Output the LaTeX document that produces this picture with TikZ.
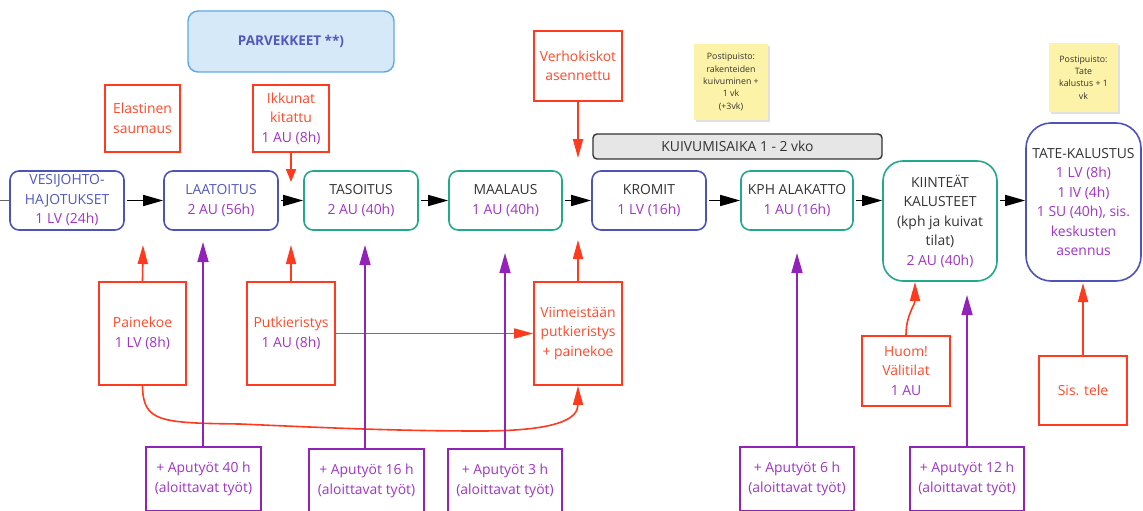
\documentclass[tikz,border=0pt]{standalone}
\usepackage{fontspec}
\setmainfont{Open Sans}
\usetikzlibrary{arrows.meta,calc}

\definecolor{redline}{HTML}{FF3A1E}
\definecolor{redtext}{HTML}{FF4B2C}
\definecolor{purpline}{HTML}{9322B8}
\definecolor{purptext}{HTML}{A035C6}
\definecolor{blueline}{HTML}{4D53B8}
\definecolor{bluetext}{HTML}{5158BE}
\definecolor{greenline}{HTML}{22A88A}
\definecolor{darktext}{HTML}{333333}
\definecolor{skyfill}{HTML}{D6E9F9}
\definecolor{skyline}{HTML}{5AA9EA}
\definecolor{notefill}{HTML}{FCF3A8}
\definecolor{barfill}{HTML}{E6E6E6}

\tikzset{
  base/.style={font=\fontsize{13.9}{19.5}\selectfont, align=center,
    inner sep=0pt, text=darktext},
  bluebox/.style={base, draw=blueline, line width=1.6pt, rounded corners=9pt, fill=white},
  greenbox/.style={base, draw=greenline, line width=1.6pt, rounded corners=9pt, fill=white},
  redbox/.style={base, draw=redline, line width=1.8pt, text=redtext, fill=white},
  purpbox/.style={base, draw=purpline, line width=1.8pt, text=purptext, fill=white},
  notebox/.style={align=center, inner sep=0pt, fill=notefill, text=darktext,
    font=\fontsize{8.8}{12.4}\selectfont},
  blk/.style={line width=1.4pt, -{Triangle[length=20pt,width=11pt]}},
  redarr/.style={redline, line width=1.6pt, -{Triangle[length=19pt,width=10pt]}},
  redarrs/.style={redline, line width=1.6pt, -{Triangle[length=13pt,width=10pt]}},
  purparr/.style={purpline, line width=1.6pt, -{Triangle[length=20pt,width=11pt]}},
}
\newcommand{\pu}[1]{\textcolor{purptext}{#1}}
\newcommand{\bl}[1]{\textcolor{bluetext}{#1}}

\begin{document}
\begin{tikzpicture}[x=1pt,y=-1pt]
\useasboundingbox (0,0) rectangle (1143,511);

% balcony heading
\node[base, draw=skyline, fill=skyfill, line width=1.4pt, rounded corners=10pt,
  minimum width=206pt, minimum height=61pt, text=bluetext,
  font=\fontsize{13.5}{16}\selectfont\bfseries] (parv) at (291,41.5) {PARVEKKEET **)};

% drying time bar
\node[base, draw=darktext, fill=barfill, line width=1.4pt, rounded corners=4pt,
  minimum width=289pt, minimum height=25pt] (kuiv) at (737.5,146.5) {KUIVUMISAIKA 1 - 2 vko};

% sticky notes
\fill[black!12] (696,46) rectangle (770,122);
\node[notebox, minimum width=74pt, minimum height=76pt] (note1) at (731,82)
  {Postipuisto:\\rakenteiden\\kuivuminen +\\1 vk\\(+3vk)};
\fill[black!12] (1051,45) rectangle (1120,114);
\node[notebox, minimum width=69pt, minimum height=69pt] (note2) at (1083.5,77.5)
  {Postipuisto:\\Tate\\kalustus + 1\\vk};

% main work phases
\node[bluebox, minimum width=114pt, minimum height=59pt] (ves) at (67,200.5)
  {\bl{VESIJOHTO-}\\\bl{\addfontfeatures{Kerning=Off}HAJOTUKSET}\\\pu{1 LV (24h)}};
\node[bluebox, minimum width=114pt, minimum height=59pt] (laa) at (221,200.5)
  {\bl{LAATOITUS}\\\pu{2 AU (56h)}};
\node[greenbox, minimum width=114pt, minimum height=59pt] (tas) at (361,200.5)
  {TASOITUS\\\pu{2 AU (40h)}};
\node[greenbox, minimum width=113pt, minimum height=59pt] (maa) at (505.5,200.5)
  {MAALAUS\\\pu{1 AU (40h)}};
\node[bluebox, minimum width=114pt, minimum height=59pt] (kro) at (649,200.5)
  {KROMIT\\\pu{1 LV (16h)}};
\node[greenbox, minimum width=112pt, minimum height=59pt] (kph) at (797,200.5)
  {KPH ALAKATTO\\\pu{1 AU (16h)}};
\node[greenbox, rounded corners=20pt, minimum width=114pt, minimum height=120pt] (kii) at (940,221)
  {KIINTEÄT\\KALUSTEET\\(kph ja kuivat\\tilat)\\\pu{2 AU (40h)}};
\node[bluebox, rounded corners=25pt, minimum width=115pt, minimum height=158pt] (tat) at (1083.5,202)
  {TATE-KALUSTUS\\\pu{1 LV (8h)}\\\pu{1 IV (4h)}\\\pu{1 SU (40h), sis.}\\\pu{keskusten}\\\pu{asennus}};

% conditions and prerequisites
\node[redbox, minimum width=75pt, minimum height=67pt] (ela) at (142.5,118.5) {Elastinen\\saumaus};
\node[redbox, minimum width=76pt, minimum height=67pt] (ikk) at (291,118.5)
  {Ikkunat\\kitattu\\\pu{1 AU (8h)}};
\node[redbox, minimum width=88pt, minimum height=70pt] (ver) at (578,66) {Verhokiskot\\asennettu};
\node[redbox, minimum width=87pt, minimum height=103pt] (pai) at (142.5,333.5)
  {Painekoe\\\pu{1 LV (8h)}};
\node[redbox, minimum width=88pt, minimum height=103pt] (put) at (291,333.5)
  {Putkieristys\\\pu{1 AU (8h)}};
\node[redbox, minimum width=88pt, minimum height=103pt] (vii) at (578,333.5)
  {Viimeistään\\putkieristys\\+ painekoe};
\node[redbox, minimum width=88pt, minimum height=70pt] (huo) at (906,371)
  {Huom!\\Välitilat\\\pu{1 AU}};
\node[redbox, minimum width=88pt, minimum height=69pt] (sis) at (1083,390.5) {Sis. tele};

% auxiliary work
\node[purpbox, minimum width=115pt, minimum height=64pt] (ap1) at (203.5,479) {+ Aputyöt 40 h\\(aloittavat työt)};
\node[purpbox, minimum width=115pt, minimum height=64pt] (ap2) at (366.5,481) {+ Aputyöt 16 h\\(aloittavat työt)};
\node[purpbox, minimum width=114pt, minimum height=64pt] (ap3) at (505,481) {+ Aputyöt 3 h\\(aloittavat työt)};
\node[purpbox, minimum width=114pt, minimum height=64pt] (ap4) at (797,479) {+ Aputyöt 6 h\\(aloittavat työt)};
\node[purpbox, minimum width=114pt, minimum height=64pt] (ap5) at (967,479) {+ Aputyöt 12 h\\(aloittavat työt)};

% free arrow ends
\coordinate (inL) at (0,200.5);
\coordinate (tIkk) at (291,182);
\coordinate (tVer) at (578,158);
\coordinate (tPai) at (143,245);
\coordinate (tPut) at (291,245);
\coordinate (tVii) at (578,240);
\coordinate (tA1) at (203,242);
\coordinate (tA2) at (365,245);
\coordinate (tA3) at (505,253);
\coordinate (tA4) at (797,253);
\coordinate (tA5) at (967,295);
\coordinate (tHuo) at (915,282);
\coordinate (tSis) at (1083,283);

% main sequence
\draw[black!60, line width=1pt] (inL) -- (ves.west);
\draw[blk] ([xshift=2pt]ves.east) -- (laa.west);
\draw[blk] ([xshift=2pt]laa.east) -- (tas.west);
\draw[blk] ([xshift=2pt]tas.east) -- (maa.west);
\draw[blk] ([xshift=2pt]maa.east) -- (kro.west);
\draw[blk] ([xshift=2pt]kro.east) -- (kph.west);
\draw[blk] ([xshift=2pt]kph.east) -- (kph.east -| kii.west);
\draw[blk] ([xshift=2pt]kii.east |- kph.east) -- (tat.west |- kph.east);

% condition arrows
\draw[redarrs] (ikk.south) -- (tIkk);
\draw[redarr] (ver.south) -- (tVer);
\draw[redarr] (pai.north) -- (tPai);
\draw[redarr] (put.north) -- (tPut);
\draw[redarr] (vii.north) -- (tVii);
\draw[redarr] (put.east) -- (vii.west);
\draw[redarr] (pai.south) .. controls (143,422) and (160,423) .. (240,424)
  .. controls (330,428) and (400,431) .. (480,431)
  .. controls (560,431) and (578,418) .. (vii.south);
\draw[redarr] (huo.north) .. controls (906,315) and (915,305) .. (tHuo);
\draw[redarr] (sis.north) -- (tSis);

% auxiliary work arrows
\draw[purparr] (ap1.north -| tA1) -- (tA1);
\draw[purparr] (ap2.north -| tA2) -- (tA2);
\draw[purparr] (ap3.north -| tA3) -- (tA3);
\draw[purparr] (ap4.north -| tA4) -- (tA4);
\draw[purparr] (ap5.north -| tA5) -- (tA5);
\end{tikzpicture}
\end{document}
